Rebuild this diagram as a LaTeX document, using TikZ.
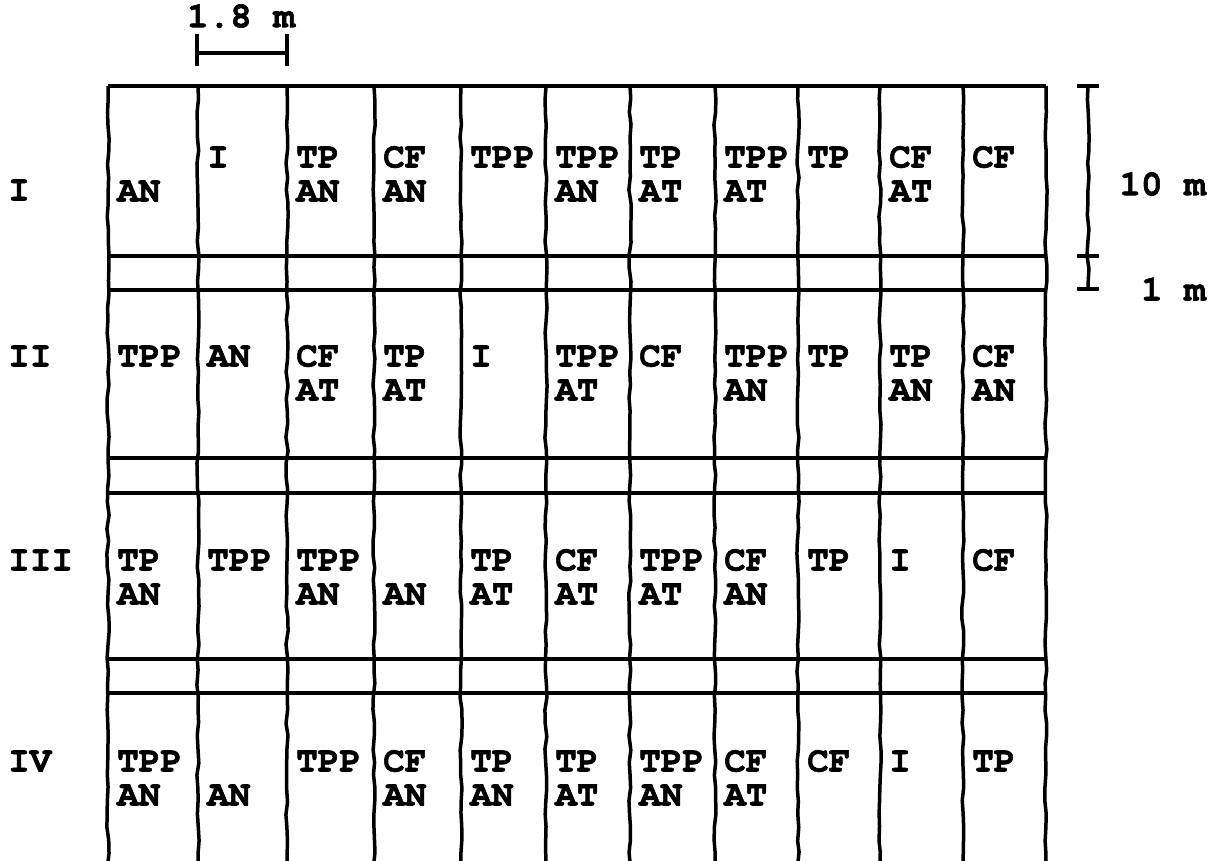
\documentclass[tikz,border=0pt]{standalone}
\usepackage{fontspec}
\newfontfamily\cour[Extension=.otf, UprightFont=texgyrecursor-regular, BoldFont=texgyrecursor-bold, BoldFeatures={FakeBold=1.6}]{texgyrecursor}
\usetikzlibrary{decorations.pathmorphing}
\newcommand\cellxy[2]{%
  \pgfmathsetmacro\cellX{{108,198,287,374,461,546,630,715,798,880,963}[#2]+9}%
  \pgfmathsetmacro\cellY{{157,356,560,761}[#1]}}
\newcommand\tp[3]{\cellxy{#1}{#2}\node[lbl] (t#1-#2) at (\cellX,\cellY) {#3};}
\newcommand\bt[3]{\cellxy{#1}{#2}\node[lbl] (b#1-#2) at (\cellX,\cellY+34) {#3};}
\begin{document}
\begin{tikzpicture}[x=1pt,y=-1pt,
  grid/.style={line width=3.2pt},
  wavy/.style={line width=3.5pt, decorate, decoration={random steps, segment length=13pt, amplitude=1.1pt}},
  bar/.style={line width=3.2pt},
  lbl/.style={font=\cour\bfseries\fontsize{36}{36}\selectfont, inner sep=0pt, anchor=west},
]
\pgfmathsetseed{7}
\useasboundingbox (0,0) rectangle (1214,860);
% horizontal lines
\foreach \y in {86,256,290,458,493,659,693}
  \draw[grid] (108,\y) -- (1046,\y);
% vertical (wavy) lines
\foreach \x in {108,198,287,374,461,546,630,715,798,880,963,1046}
  \draw[wavy] (\x,86) -- (\x,862);
% scale bar 1.8 m
\coordinate (sbl) at (197,53);
\coordinate (sbr) at (287,53);
\draw[bar] (sbl) -- (sbr);
\draw[bar] ([yshift=-13pt]sbl) -- ([yshift=19pt]sbl);
\draw[bar] ([yshift=-13pt]sbr) -- ([yshift=19pt]sbr);
\node[lbl, anchor=center] (s18) at (241,16) {1.8 m};
% right dimension bar
\coordinate (d1) at (1088,86);
\coordinate (d2) at (1088,256);
\coordinate (d3) at (1088,289);
\draw[wavy] (d1) -- (d3);
\foreach \p in {d1,d2,d3}
  \draw[bar] ([xshift=-11pt]\p) -- ([xshift=11pt]\p);
\node[lbl, anchor=east] (s10) at (1206,184) {10 m};
\node[lbl, anchor=east] (s1) at (1206,289) {1 m};
% row labels
\node[lbl] (r1) at (8,190) {I};
\node[lbl] (r2) at (8,356) {II};
\node[lbl] (r3) at (8,560) {III};
\node[lbl] (r4) at (8,761) {IV};
% row I
\bt{0}{0}{AN}
\tp{0}{1}{I}
\tp{0}{2}{TP}\bt{0}{2}{AN}
\tp{0}{3}{CF}\bt{0}{3}{AN}
\tp{0}{4}{TPP}
\tp{0}{5}{TPP}\bt{0}{5}{AN}
\tp{0}{6}{TP}\bt{0}{6}{AT}
\tp{0}{7}{TPP}\bt{0}{7}{AT}
\tp{0}{8}{TP}
\tp{0}{9}{CF}\bt{0}{9}{AT}
\tp{0}{10}{CF}
% row II
\tp{1}{0}{TPP}
\tp{1}{1}{AN}
\tp{1}{2}{CF}\bt{1}{2}{AT}
\tp{1}{3}{TP}\bt{1}{3}{AT}
\tp{1}{4}{I}
\tp{1}{5}{TPP}\bt{1}{5}{AT}
\tp{1}{6}{CF}
\tp{1}{7}{TPP}\bt{1}{7}{AN}
\tp{1}{8}{TP}
\tp{1}{9}{TP}\bt{1}{9}{AN}
\tp{1}{10}{CF}\bt{1}{10}{AN}
% row III
\tp{2}{0}{TP}\bt{2}{0}{AN}
\tp{2}{1}{TPP}
\tp{2}{2}{TPP}\bt{2}{2}{AN}
\bt{2}{3}{AN}
\tp{2}{4}{TP}\bt{2}{4}{AT}
\tp{2}{5}{CF}\bt{2}{5}{AT}
\tp{2}{6}{TPP}\bt{2}{6}{AT}
\tp{2}{7}{CF}\bt{2}{7}{AN}
\tp{2}{8}{TP}
\tp{2}{9}{I}
\tp{2}{10}{CF}
% row IV
\tp{3}{0}{TPP}\bt{3}{0}{AN}
\bt{3}{1}{AN}
\tp{3}{2}{TPP}
\tp{3}{3}{CF}\bt{3}{3}{AN}
\tp{3}{4}{TP}\bt{3}{4}{AN}
\tp{3}{5}{TP}\bt{3}{5}{AT}
\tp{3}{6}{TPP}\bt{3}{6}{AN}
\tp{3}{7}{CF}\bt{3}{7}{AT}
\tp{3}{8}{CF}
\tp{3}{9}{I}
\tp{3}{10}{TP}
\end{tikzpicture}
\end{document}
